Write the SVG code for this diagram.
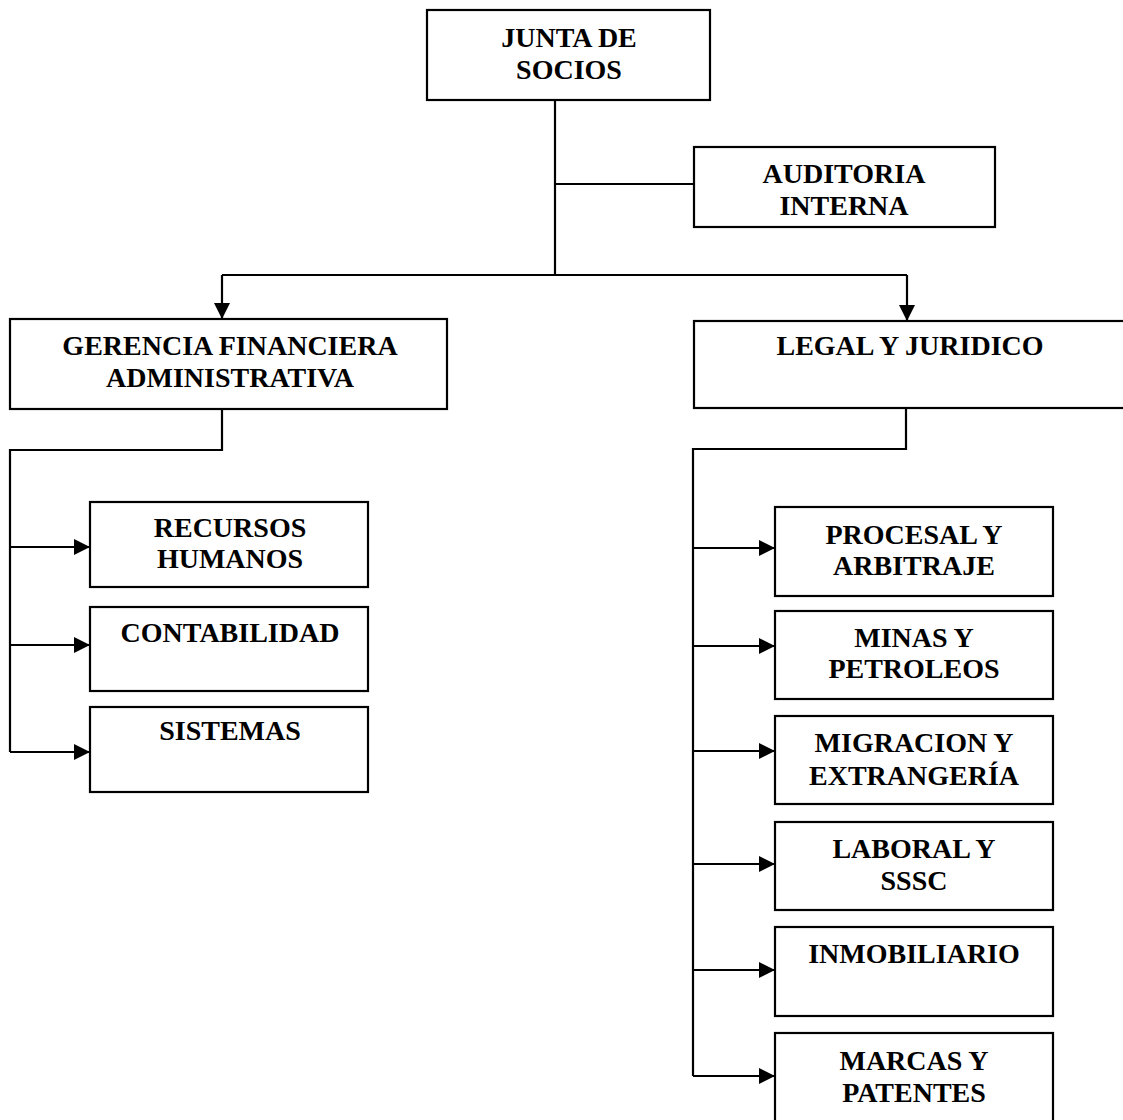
<svg xmlns="http://www.w3.org/2000/svg" width="1123" height="1120" viewBox="0 0 1123 1120">
<style>
.box{fill:#fff;stroke:#000;stroke-width:2.2}
.ln{fill:none;stroke:#000;stroke-width:2.2}
text{font-family:"Liberation Serif","Times New Roman",serif;font-weight:bold;font-size:28px;text-anchor:middle;fill:#000}
</style>
<defs>
<marker id="ah" viewBox="0 0 16 16" refX="16" refY="8" markerWidth="16" markerHeight="16" markerUnits="userSpaceOnUse" orient="auto">
<path d="M0,0 L16,8 L0,16 z" fill="#000"/>
</marker>
</defs>
<rect width="1123" height="1120" fill="#fff"/>
<g id="connectors">
<path class="ln" d="M555,100 V275"/>
<path class="ln" d="M555,184 H694"/>
<path class="ln" d="M222,275 H907"/>
<path class="ln" d="M222,275 V319" marker-end="url(#ah)"/>
<path class="ln" d="M907,275 V321" marker-end="url(#ah)"/>
<path class="ln" d="M222,409 V450 H10 V752"/>
<path class="ln" d="M10,547 H90" marker-end="url(#ah)"/>
<path class="ln" d="M10,645 H90" marker-end="url(#ah)"/>
<path class="ln" d="M10,752 H90" marker-end="url(#ah)"/>
<path class="ln" d="M906,408 V449 H693 V1076"/>
<path class="ln" d="M693,548 H775" marker-end="url(#ah)"/>
<path class="ln" d="M693,646 H775" marker-end="url(#ah)"/>
<path class="ln" d="M693,751 H775" marker-end="url(#ah)"/>
<path class="ln" d="M693,864 H775" marker-end="url(#ah)"/>
<path class="ln" d="M693,970 H775" marker-end="url(#ah)"/>
<path class="ln" d="M693,1076 H775" marker-end="url(#ah)"/>
</g>
<g id="junta"><rect class="box" x="427" y="10" width="283" height="90"/><text x="569" y="47">JUNTA DE</text><text x="569" y="79">SOCIOS</text></g>
<g id="auditoria"><rect class="box" x="694" y="147" width="301" height="80"/><text x="844" y="183">AUDITORIA</text><text x="844" y="215">INTERNA</text></g>
<g id="gerencia"><rect class="box" x="10" y="319" width="437" height="90"/><text x="230" y="355">GERENCIA FINANCIERA</text><text x="230" y="387">ADMINISTRATIVA</text></g>
<g id="legal"><rect class="box" x="694" y="321" width="500" height="87"/><text x="910" y="355">LEGAL Y JURIDICO</text></g>
<g id="rrhh"><rect class="box" x="90" y="502" width="278" height="85"/><text x="230" y="537">RECURSOS</text><text x="230" y="568">HUMANOS</text></g>
<g id="contabilidad"><rect class="box" x="90" y="607" width="278" height="84"/><text x="230" y="642">CONTABILIDAD</text></g>
<g id="sistemas"><rect class="box" x="90" y="707" width="278" height="85"/><text x="230" y="740">SISTEMAS</text></g>
<g id="procesal"><rect class="box" x="775" y="507" width="278" height="89"/><text x="914" y="544">PROCESAL Y</text><text x="914" y="575">ARBITRAJE</text></g>
<g id="minas"><rect class="box" x="775" y="611" width="278" height="88"/><text x="914" y="647">MINAS Y</text><text x="914" y="678">PETROLEOS</text></g>
<g id="migracion"><rect class="box" x="775" y="716" width="278" height="88"/><text x="914" y="752">MIGRACION Y</text><text x="914" y="785">EXTRANGERÍA</text></g>
<g id="laboral"><rect class="box" x="775" y="822" width="278" height="88"/><text x="914" y="858">LABORAL Y</text><text x="914" y="890">SSSC</text></g>
<g id="inmobiliario"><rect class="box" x="775" y="927" width="278" height="89"/><text x="914" y="963">INMOBILIARIO</text></g>
<g id="marcas"><rect class="box" x="775" y="1033" width="278" height="100"/><text x="914" y="1070">MARCAS Y</text><text x="914" y="1102">PATENTES</text></g>
</svg>
